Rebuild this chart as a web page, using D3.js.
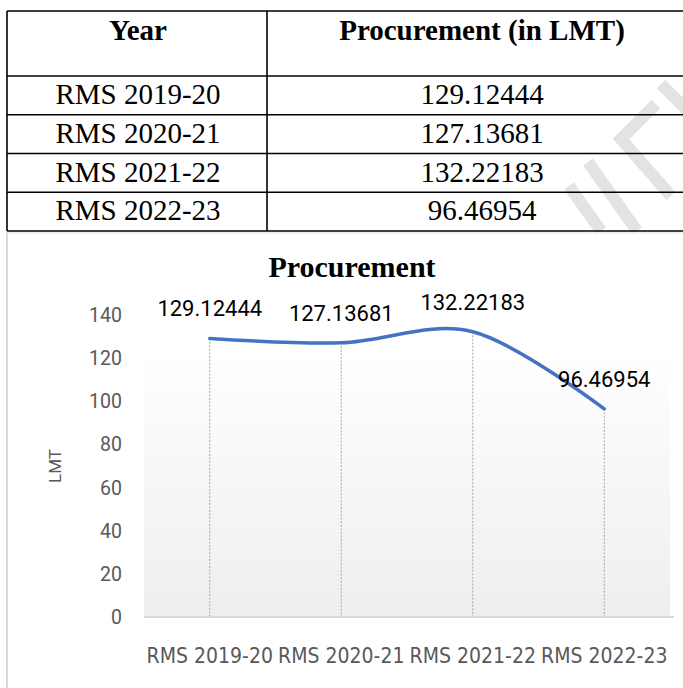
<!DOCTYPE html>
<html>
<head>
<meta charset="utf-8">
<script src="https://cdn.jsdelivr.net/npm/d3@7"></script>
<style>
  body { margin: 0; background: #fff; }
</style>
</head>
<body>
<svg id="chart" width="683" height="688"></svg>
<script>
var years = ["RMS 2019-20", "RMS 2020-21", "RMS 2021-22", "RMS 2022-23"];
var procurement = [129.12444, 127.13681, 132.22183, 96.46954];
var procurementText = ["129.12444", "127.13681", "132.22183", "96.46954"];
var yTicks = [0, 20, 40, 60, 80, 100, 120, 140];
var tableHeader = ["Year", "Procurement (in LMT)"];

var svg = d3.select("#chart");
var serif = "'Liberation Serif', 'Times New Roman', serif";

// ---- table on top ----
var tbl = { left: 7, right: 690, top: 11, split: 267, headH: 65, rowH: 38.75 };
var tableBottom = tbl.top + tbl.headH + years.length * tbl.rowH;

// faint watermark behind the table
var wm = svg.append("g").attr("stroke", "#e3e3e3").attr("stroke-width", 12)
    .attr("fill", "none").attr("stroke-linecap", "butt");
wm.append("polyline").attr("points", "656,104 621,139 671,196");
wm.append("line").attr("x1", 661).attr("y1", 84).attr("x2", 690).attr("y2", 113);
wm.append("line").attr("x1", 588).attr("y1", 162).attr("x2", 637).attr("y2", tableBottom);
wm.append("line").attr("x1", 569).attr("y1", 186).attr("x2", 601).attr("y2", tableBottom);

var tg = svg.append("g");

// horizontal rules
var rules = [tbl.top, tbl.top + tbl.headH].concat(years.map((d, i) => tbl.top + tbl.headH + (i + 1) * tbl.rowH));
tg.selectAll(".hrule").data(rules).join("line")
    .attr("x1", tbl.left).attr("x2", tbl.right)
    .attr("y1", d => d).attr("y2", d => d)
    .attr("stroke", "#000").attr("stroke-width", 1.6);
tg.selectAll(".vrule").data([tbl.left, tbl.split]).join("line")
    .attr("x1", d => d).attr("x2", d => d)
    .attr("y1", tbl.top).attr("y2", tableBottom)
    .attr("stroke", "#000").attr("stroke-width", 1.6);

var col1 = 138, col2 = 482;
tg.selectAll(".head").data(tableHeader).join("text")
    .attr("x", (d, i) => i == 0 ? col1 : col2)
    .attr("y", tbl.top + 29)
    .attr("text-anchor", "middle")
    .style("font-family", serif)
    .style("font-weight", "bold")
    .style("font-size", "29px")
    .text(d => d);

years.forEach(function(y, i) {
    var base = tbl.top + tbl.headH + i * tbl.rowH + 28;
    tg.append("text").attr("x", col1).attr("y", base).attr("text-anchor", "middle")
        .style("font-family", serif).style("font-size", "29px").text(y);
    tg.append("text").attr("x", col2).attr("y", base).attr("text-anchor", "middle")
        .style("font-family", serif).style("font-size", "29px").text(procurementText[i]);
});

// chart frame edges
svg.append("line").attr("x1", 7).attr("x2", 7).attr("y1", tableBottom + 1).attr("y2", 688)
    .attr("stroke", "#d9d9d9").attr("stroke-width", 2);
svg.append("line").attr("x1", 7).attr("x2", 683).attr("y1", tableBottom + 2).attr("y2", tableBottom + 2)
    .attr("stroke", "#ececec").attr("stroke-width", 1.5);

// ---- line chart ----
var margin = { left: 144, right: 13, top: 348 },
    w = 683 - margin.left - margin.right;

var defs = svg.append("defs");
var grad = defs.append("linearGradient").attr("id", "plotbg").attr("x1", 0).attr("x2", 0).attr("y1", 0).attr("y2", 1);
grad.append("stop").attr("offset", "0%").attr("stop-color", "#ffffff");
grad.append("stop").attr("offset", "100%").attr("stop-color", "#eeeeee");

var x = d3.scalePoint().domain(years).range([0, w]).padding(0.5);
var y = d3.scaleLinear().domain([0, 140]).range([617 - margin.top, 315 - margin.top]);

var g = svg.append("g").attr("transform", `translate(${margin.left}, ${margin.top})`);

g.append("rect").attr("x", 0).attr("y", 0).attr("width", w).attr("height", y(0))
    .attr("fill", "url(#plotbg)");

// title
svg.append("text").attr("x", 352).attr("y", 277).attr("text-anchor", "middle")
    .style("font-family", serif)
    .style("font-weight", "bold").style("font-size", "30px")
    .text("Procurement");

// y tick labels
g.selectAll(".ytick").data(yTicks).join("text")
    .attr("x", -22).attr("y", d => y(d) + 7)
    .attr("text-anchor", "end")
    .style("font-family", "Roboto, 'Noto Sans', sans-serif")
    .style("font-size", "19.5px").attr("fill", "#595959")
    .text(d => d);

// axis title
g.append("text").attr("transform", `translate(-83, ${y(70)}) rotate(-90)`)
    .attr("text-anchor", "middle")
    .style("font-family", "Roboto, 'Noto Sans', sans-serif")
    .style("font-size", "17px").attr("fill", "#595959")
    .text("LMT");

// drop lines
g.selectAll(".drop").data(years).join("line")
    .attr("x1", d => x(d)).attr("x2", d => x(d))
    .attr("y1", (d, i) => y(procurement[i])).attr("y2", y(0))
    .attr("stroke", "#a6a6a6").attr("stroke-width", 1).attr("stroke-dasharray", "2,1.5");

// x axis baseline
g.append("line").attr("x1", 0).attr("x2", w + 4).attr("y1", y(0)).attr("y2", y(0))
    .attr("stroke", "#d9d9d9").attr("stroke-width", 2);

// x labels
g.selectAll(".xlab").data(years).join("text")
    .attr("x", d => x(d)).attr("y", y(0) + 46)
    .attr("text-anchor", "middle")
    .style("font-family", "'DejaVu Sans Condensed', 'Liberation Sans Narrow', Roboto, sans-serif")
    .style("font-size", "21px").attr("fill", "#595959")
    .text(d => d);

// smoothed line
var line = d3.line()
    .x((d, i) => x(years[i]))
    .y(d => y(d))
    .curve(d3.curveCardinal.tension(0));
g.append("path").datum(procurement)
    .attr("d", line)
    .attr("fill", "none").attr("stroke", "#4472c4").attr("stroke-width", 3.5)
    .attr("stroke-linecap", "round");

// data labels
g.selectAll(".dlab").data(procurement).join("text")
    .attr("x", (d, i) => x(years[i]))
    .attr("y", d => y(d) - 22)
    .attr("text-anchor", "middle")
    .style("font-family", "Roboto, 'Noto Sans', sans-serif")
    .style("font-size", "22px").attr("fill", "#000")
    .text((d, i) => procurementText[i]);
</script>
</body>
</html>
